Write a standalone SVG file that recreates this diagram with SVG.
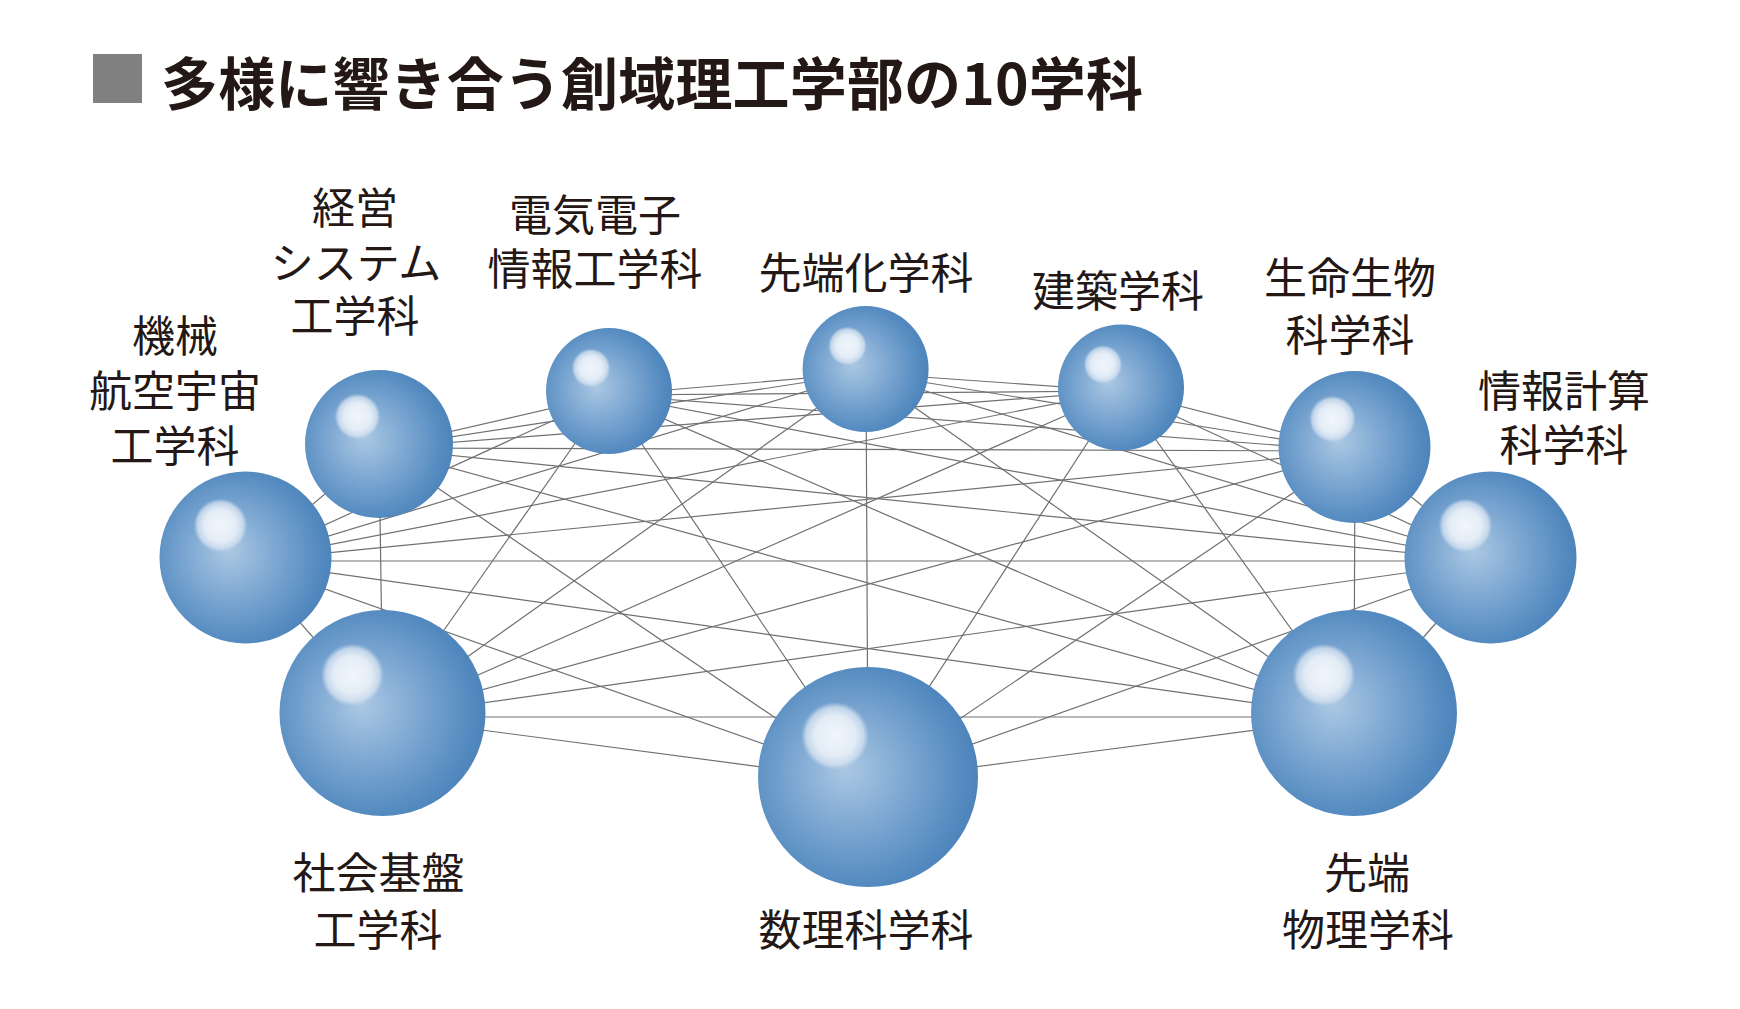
<svg xmlns="http://www.w3.org/2000/svg" width="1740" height="1009" viewBox="0 0 1740 1009">
<defs>
<radialGradient id="ball" cx="0.44" cy="0.5" r="0.6" fx="0.4" fy="0.46">
<stop offset="0" stop-color="#abc8e3"/>
<stop offset="0.45" stop-color="#7ba6d1"/>
<stop offset="0.85" stop-color="#5289bf"/>
<stop offset="1" stop-color="#4a80b7"/>
</radialGradient>
<radialGradient id="hl" cx="0.5" cy="0.5" r="0.5">
<stop offset="0" stop-color="#f1f6fb"/>
<stop offset="0.6" stop-color="#e3ecf6"/>
<stop offset="0.85" stop-color="#d3e1f0" stop-opacity="0.8"/>
<stop offset="1" stop-color="#c0d4ea" stop-opacity="0"/>
</radialGradient>
</defs>
<style>
.t{font-family:"Noto Sans CJK JP","Noto Sans CJK SC",sans-serif;fill:#231815;font-size:43px;text-anchor:middle;dominant-baseline:central}
.title{font-family:"Noto Sans CJK JP","Noto Sans CJK SC",sans-serif;fill:#231815;font-size:57px;font-weight:bold;dominant-baseline:central}
.c line{stroke:#707070;stroke-width:1.2}
.b{fill:url(#ball)}
.h{fill:url(#hl)}
</style>
<rect width="1740" height="1009" fill="#ffffff"/>
<g id="title">
<rect x="93" y="54" width="49" height="49" fill="#808080"/>
<text class="title" x="161" y="80" textLength="982" lengthAdjust="spacing">多様に響き合う創域理工学部の10学科</text>
</g>
<g id="connectors" class="c">
<line x1="246" y1="561" x2="379" y2="448"/>
<line x1="246" y1="561" x2="609" y2="395"/>
<line x1="246" y1="561" x2="866" y2="373"/>
<line x1="246" y1="561" x2="1121" y2="391"/>
<line x1="246" y1="561" x2="1355" y2="451"/>
<line x1="246" y1="561" x2="1490" y2="561"/>
<line x1="246" y1="561" x2="1354" y2="717"/>
<line x1="246" y1="561" x2="868" y2="781"/>
<line x1="246" y1="561" x2="383" y2="717"/>
<line x1="379" y1="448" x2="609" y2="395"/>
<line x1="379" y1="448" x2="866" y2="373"/>
<line x1="379" y1="448" x2="1121" y2="391"/>
<line x1="379" y1="448" x2="1355" y2="451"/>
<line x1="379" y1="448" x2="1490" y2="561"/>
<line x1="379" y1="448" x2="1354" y2="717"/>
<line x1="379" y1="448" x2="868" y2="781"/>
<line x1="379" y1="448" x2="383" y2="717"/>
<line x1="609" y1="395" x2="866" y2="373"/>
<line x1="609" y1="395" x2="1121" y2="391"/>
<line x1="609" y1="395" x2="1355" y2="451"/>
<line x1="609" y1="395" x2="1490" y2="561"/>
<line x1="609" y1="395" x2="1354" y2="717"/>
<line x1="609" y1="395" x2="868" y2="781"/>
<line x1="609" y1="395" x2="383" y2="717"/>
<line x1="866" y1="373" x2="1121" y2="391"/>
<line x1="866" y1="373" x2="1355" y2="451"/>
<line x1="866" y1="373" x2="1490" y2="561"/>
<line x1="866" y1="373" x2="1354" y2="717"/>
<line x1="866" y1="373" x2="868" y2="781"/>
<line x1="866" y1="373" x2="383" y2="717"/>
<line x1="1121" y1="391" x2="1355" y2="451"/>
<line x1="1121" y1="391" x2="1490" y2="561"/>
<line x1="1121" y1="391" x2="1354" y2="717"/>
<line x1="1121" y1="391" x2="868" y2="781"/>
<line x1="1121" y1="391" x2="383" y2="717"/>
<line x1="1355" y1="451" x2="1490" y2="561"/>
<line x1="1355" y1="451" x2="1354" y2="717"/>
<line x1="1355" y1="451" x2="868" y2="781"/>
<line x1="1355" y1="451" x2="383" y2="717"/>
<line x1="1490" y1="561" x2="1354" y2="717"/>
<line x1="1490" y1="561" x2="868" y2="781"/>
<line x1="1490" y1="561" x2="383" y2="717"/>
<line x1="1354" y1="717" x2="868" y2="781"/>
<line x1="1354" y1="717" x2="383" y2="717"/>
<line x1="868" y1="781" x2="383" y2="717"/>
</g>
<g id="kikai">
<circle class="b" cx="245.5" cy="557.5" r="86"/>
<circle class="h" cx="220.5" cy="525.5" r="27"/>
<text class="t" x="175" y="333">機械</text>
<text class="t" x="175" y="388">航空宇宙</text>
<text class="t" x="175" y="443">工学科</text>
</g>
<g id="keiei">
<circle class="b" cx="379" cy="444" r="74"/>
<circle class="h" cx="357.5" cy="416.5" r="23"/>
<text class="t" x="355" y="205">経営</text>
<text class="t" x="356" y="260">システム</text>
<text class="t" x="355" y="313">工学科</text>
</g>
<g id="denki">
<circle class="b" cx="609" cy="391" r="63"/>
<circle class="h" cx="591" cy="368" r="19.5"/>
<text class="t" x="595" y="212">電気電子</text>
<text class="t" x="595" y="266">情報工学科</text>
</g>
<g id="kagaku">
<circle class="b" cx="865.6" cy="369" r="63"/>
<circle class="h" cx="847.5" cy="346" r="19.5"/>
<text class="t" x="866" y="269.5">先端化学科</text>
</g>
<g id="kenchiku">
<circle class="b" cx="1121" cy="387.5" r="63"/>
<circle class="h" cx="1103" cy="364.5" r="19.5"/>
<text class="t" x="1118" y="287.5">建築学科</text>
</g>
<g id="seimei">
<circle class="b" cx="1354.5" cy="447" r="76"/>
<circle class="h" cx="1332.5" cy="419" r="23.5"/>
<text class="t" x="1350" y="275">生命生物</text>
<text class="t" x="1350" y="332">科学科</text>
</g>
<g id="jouhou">
<circle class="b" cx="1490.5" cy="557.5" r="86"/>
<circle class="h" cx="1465.5" cy="525.5" r="27"/>
<text class="t" x="1564" y="388">情報計算</text>
<text class="t" x="1564" y="442">科学科</text>
</g>
<g id="butsuri">
<circle class="b" cx="1354" cy="713" r="103"/>
<circle class="h" cx="1324" cy="675" r="31.5"/>
<text class="t" x="1367" y="870">先端</text>
<text class="t" x="1368" y="927">物理学科</text>
</g>
<g id="suuri">
<circle class="b" cx="868" cy="777" r="110"/>
<circle class="h" cx="835" cy="736" r="34"/>
<text class="t" x="866" y="927">数理科学科</text>
</g>
<g id="shakai">
<circle class="b" cx="382.5" cy="713" r="103"/>
<circle class="h" cx="352.5" cy="675" r="31.5"/>
<text class="t" x="378.5" y="870">社会基盤</text>
<text class="t" x="378" y="927">工学科</text>
</g>
</svg>
